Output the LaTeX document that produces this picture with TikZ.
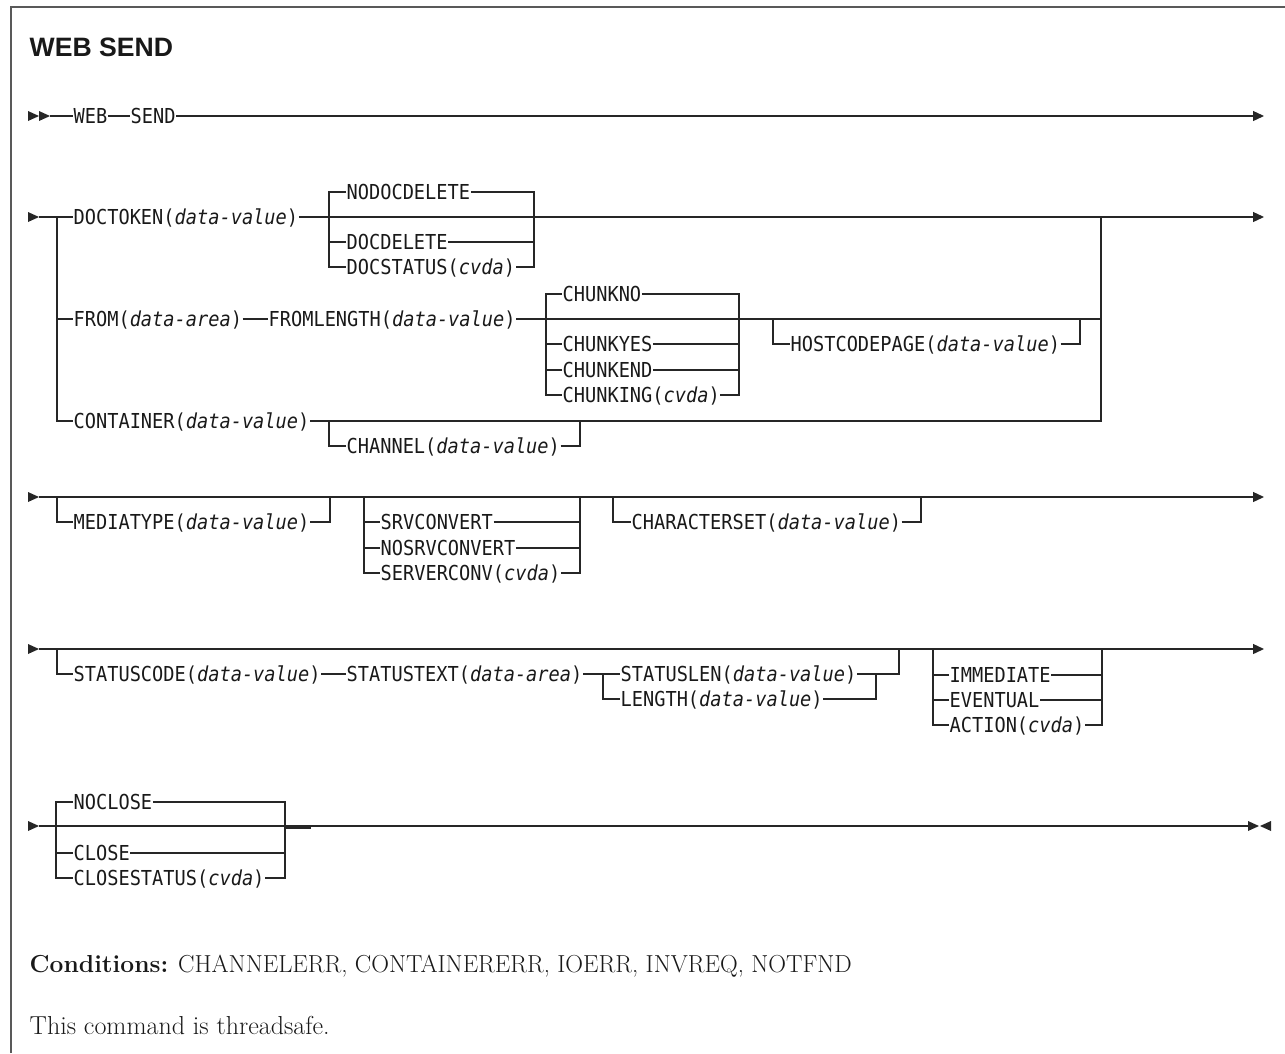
\documentclass[tikz,border=0pt]{standalone}
\usepackage{fontspec}
\usepackage{xcolor}
\usepackage{tikz}
\usetikzlibrary{arrows.meta}

\newfontfamily\synfont[FakeStretch=0.905]{DejaVu Sans Mono}
\newfontfamily\headfont{Liberation Sans}
\definecolor{ink}{HTML}{262626}
\newcommand{\var}[1]{\textit{#1}}

\begin{document}
\begin{tikzpicture}[x=1pt, y=-1pt, line width=1.3pt, color=ink,
    >={Triangle[length=11pt,width=10pt]},
    kw/.style={font=\synfont\fontsize{20.6}{24}\selectfont, text=black!90, inner sep=0pt,
               text height=15pt, text depth=0pt, anchor=west},
    note/.style={anchor=base west, inner sep=0pt, text=black!90},
    rtri/.pic={\fill (0,-5) -- (11,0) -- (0,5) -- cycle;},
    ltri/.pic={\fill (11,-5) -- (0,0) -- (11,5) -- cycle;}]
    \useasboundingbox (0,0) rectangle (1285,1053);

    % Frame and title
    \draw[line width=1.5pt, black!65] (11,1053) -- (11,7) -- (1285,7);
    \node[note, font=\headfont\bfseries\fontsize{26.6}{30}\selectfont]
        (title) at (29,56.7) {WEB SEND};

    % Row 1: WEB SEND
    \pic at (28,116) {rtri};
    \pic at (39,116) {rtri};
    \node[kw] (web) at (73,116) {WEB};
    \node[kw] (send) at (130,116) {SEND};
    \draw (50,116) -- (web.west) (web.east) -- (send.west);
    \draw[->] (send.east) -- (1264,116);

    % Row 2: DOCTOKEN / FROM / CONTAINER
    \pic at (28,217) {rtri};
    \node[kw] (doctoken) at (73,217) {DOCTOKEN(\var{data-value})};
    \node[kw] (from) at (73,319) {FROM(\var{data-area})};
    \node[kw] (fromlen) at (268,319) {FROMLENGTH(\var{data-value})};
    \node[kw] (container) at (73,421) {CONTAINER(\var{data-value})};
    \draw (39,217) -- (doctoken.west);
    \draw[->] (doctoken.east) -- (1264,217);
    \draw (57,217) |- (container.west);
    \draw (57,319) -- (from.west) (from.east) -- (fromlen.west);
    \draw (fromlen.east) -- (1101,319);
    \draw (container.east) -- (1101,421) -- (1101,217);

    % document delete options
    \node[kw] (nodocdel) at (346,192) {NODOCDELETE};
    \node[kw] (docdel) at (346,242) {DOCDELETE};
    \node[kw] (docstat) at (346,267) {DOCSTATUS(\var{cvda})};
    \draw (nodocdel.west) -- (329,192) |- (docstat.west) (docdel.west) -- (329,242);
    \draw (nodocdel.east) -- (534,192) |- (docstat.east) (docdel.east) -- (534,242);

    % chunking options
    \node[kw] (chunkno) at (562,294) {CHUNKNO};
    \node[kw] (chunkyes) at (562,344) {CHUNKYES};
    \node[kw] (chunkend) at (562,370) {CHUNKEND};
    \node[kw] (chunking) at (562,395) {CHUNKING(\var{cvda})};
    \draw (chunkno.west) -- (546,294) |- (chunking.west);
    \draw (chunkyes.west) -- (546,344) (chunkend.west) -- (546,370);
    \draw (chunkno.east) -- (739,294) |- (chunking.east);
    \draw (chunkyes.east) -- (739,344) (chunkend.east) -- (739,370);

    \node[kw] (hostcp) at (790,344) {HOSTCODEPAGE(\var{data-value})};
    \draw (773,319) |- (hostcp.west) (hostcp.east) -| (1080,319);

    \node[kw] (channel) at (346,446) {CHANNEL(\var{data-value})};
    \draw (329,421) |- (channel.west) (channel.east) -| (580,421);

    % Row 3: MEDIATYPE / SRVCONVERT / CHARACTERSET
    \pic at (28,497) {rtri};
    \draw[->] (39,497) -- (1264,497);
    \node[kw] (mediatype) at (73,522) {MEDIATYPE(\var{data-value})};
    \draw (57,497) |- (mediatype.west) (mediatype.east) -| (330,497);

    \node[kw] (srvconv) at (380,522) {SRVCONVERT};
    \node[kw] (nosrvconv) at (380,548) {NOSRVCONVERT};
    \node[kw] (serverconv) at (380,573) {SERVERCONV(\var{cvda})};
    \draw (364,497) |- (serverconv.west);
    \draw (srvconv.west) -- (364,522) (nosrvconv.west) -- (364,548);
    \draw (580,497) |- (serverconv.east);
    \draw (srvconv.east) -- (580,522) (nosrvconv.east) -- (580,548);

    \node[kw] (charset) at (631,522) {CHARACTERSET(\var{data-value})};
    \draw (613,497) |- (charset.west) (charset.east) -| (921,497);

    % Row 4: STATUSCODE / IMMEDIATE
    \pic at (28,649) {rtri};
    \draw[->] (39,649) -- (1264,649);
    \node[kw] (statcode) at (73,674) {STATUSCODE(\var{data-value})};
    \node[kw] (stattext) at (346,674) {STATUSTEXT(\var{data-area})};
    \node[kw] (statlen) at (620,674) {STATUSLEN(\var{data-value})};
    \node[kw] (length) at (620,699) {LENGTH(\var{data-value})};
    \draw (57,649) |- (statcode.west) (statcode.east) -- (stattext.west);
    \draw (stattext.east) -- (statlen.west) (603,674) |- (length.west);
    \draw (statlen.east) -| (899,649);
    \draw (length.east) -| (876,674);

    \node[kw] (immediate) at (949,675) {IMMEDIATE};
    \node[kw] (eventual) at (949,700) {EVENTUAL};
    \node[kw] (action) at (949,725) {ACTION(\var{cvda})};
    \draw (933,649) |- (action.west);
    \draw (immediate.west) -- (933,675) (eventual.west) -- (933,700);
    \draw (1102,649) |- (action.east);
    \draw (immediate.east) -- (1102,675) (eventual.east) -- (1102,700);

    % Row 5: NOCLOSE / CLOSE
    \pic at (28,826) {rtri};
    \draw (39,826) -- (1248,826);
    \pic at (1248,826) {rtri};
    \pic at (1260,826) {ltri};
    \node[kw] (noclose) at (73,802) {NOCLOSE};
    \node[kw] (close) at (73,853) {CLOSE};
    \node[kw] (closestat) at (73,878) {CLOSESTATUS(\var{cvda})};
    \draw (noclose.west) -- (56,802) |- (closestat.west) (close.west) -- (56,853);
    \draw (noclose.east) -- (285,802) |- (closestat.east) (close.east) -- (285,853);
    \draw (285,828) -- (311,828);

    % Notes
    \node[note, font=\fontsize{24.6}{28}\selectfont] (cond) at (29,972.7)
        {\textbf{Conditions:} CHANNELERR, CONTAINERERR, IOERR, INVREQ, NOTFND};
    \node[note, font=\fontsize{26}{30}\selectfont] (safe) at (29,1034)
        {This command is threadsafe.};
\end{tikzpicture}
\end{document}
